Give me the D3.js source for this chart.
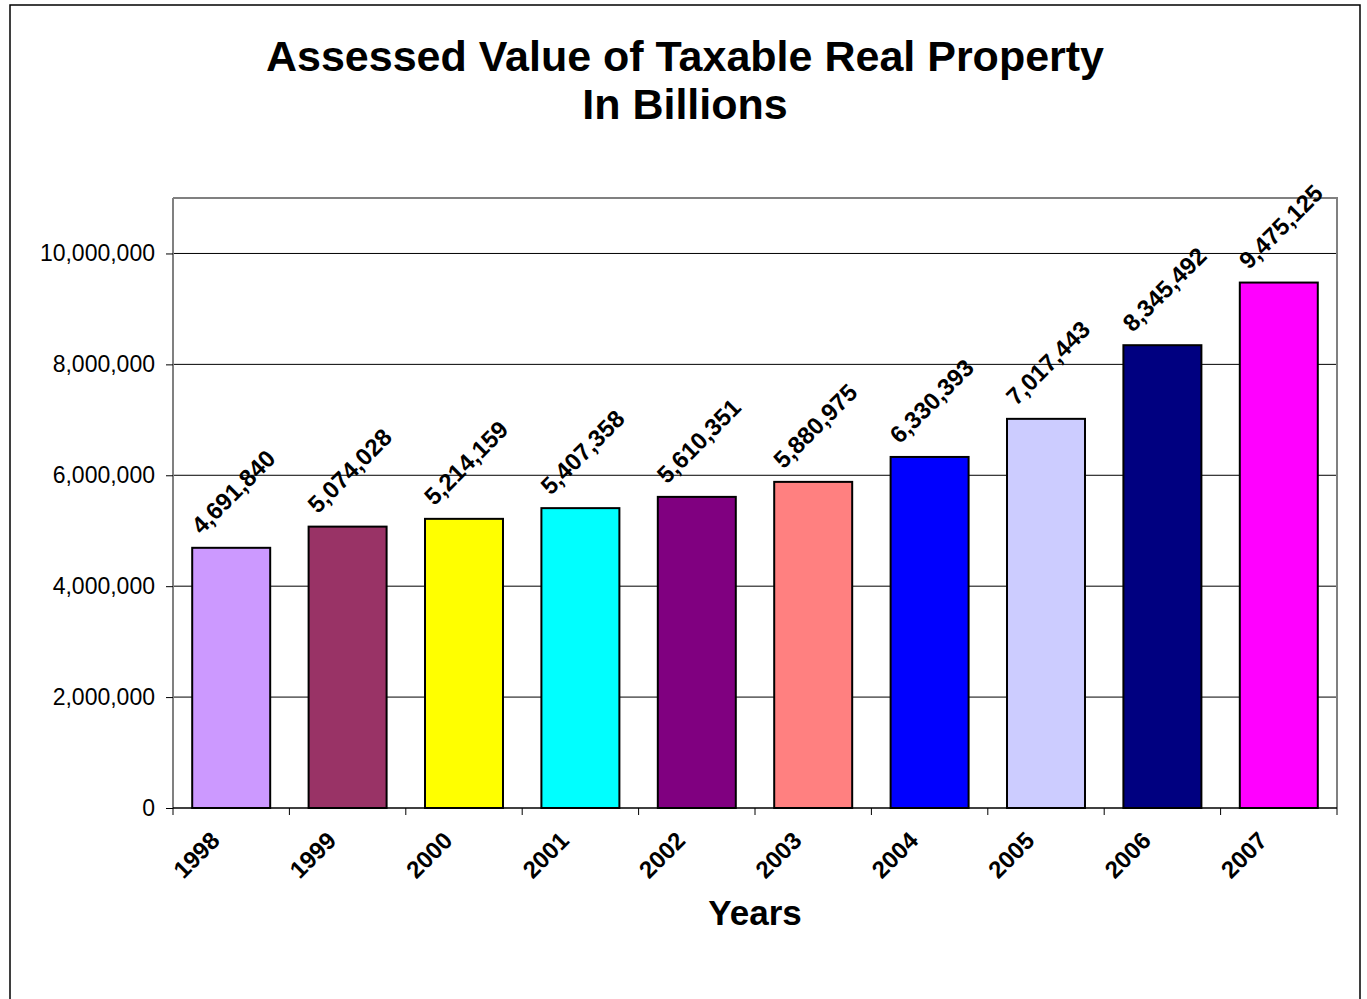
<!DOCTYPE html>
<html>
<head>
<meta charset="utf-8">
<script src="https://cdn.jsdelivr.net/npm/d3@7"></script>
<style>
body { margin: 0; background: #fff; }
svg { font-family: "Liberation Sans", Arial, sans-serif; }
</style>
</head>
<body>
<svg id="chart" width="1367" height="999"></svg>
<script>
// data
var years = ["1998", "1999", "2000", "2001", "2002", "2003", "2004", "2005", "2006", "2007"];
var values = [4691840, 5074028, 5214159, 5407358, 5610351, 5880975, 6330393, 7017443, 8345492, 9475125];
var colors = ["#CC99FF", "#993366", "#FFFF00", "#00FFFF", "#800080", "#FF8080", "#0000FF", "#CCCCFF", "#000080", "#FF00FF"];
var yTicks = [0, 2000000, 4000000, 6000000, 8000000, 10000000];

var svg = d3.select("#chart");
var pLeft = 173, pRight = 1337, pTop = 198, pBottom = 808;

// outer frame
svg.append("path")
    .attr("d", "M10,1010 V5 H1360 V1010")
    .attr("fill", "none")
    .attr("stroke", "#000")
    .attr("stroke-width", 1.5);

svg.append("text")
    .text("Assessed Value of Taxable Real Property")
    .attr("x", 685).attr("y", 71)
    .attr("text-anchor", "middle")
    .attr("font-weight", "bold")
    .attr("font-size", 43);
svg.append("text")
    .text("In Billions")
    .attr("x", 685).attr("y", 119)
    .attr("text-anchor", "middle")
    .attr("font-weight", "bold")
    .attr("font-size", 43);

var x = d3.scaleBand().domain(years).range([pLeft, pRight]).paddingInner(0.33).paddingOuter(0.165);
var xb = d3.scaleBand().domain(years).range([pLeft, pRight]);
var y = d3.scaleLinear().domain([0, 11000000]).range([pBottom, pTop]);

// gridlines
svg.append("g").selectAll("line")
    .data(yTicks.slice(1))
    .enter().append("line")
    .attr("x1", pLeft).attr("x2", pRight)
    .attr("y1", function(d){ return y(d); })
    .attr("y2", function(d){ return y(d); })
    .attr("stroke", "#000")
    .attr("stroke-width", 1);

// plot frame (top and right)
svg.append("path")
    .attr("d", "M" + pLeft + "," + pTop + " H" + pRight + " V" + pBottom)
    .attr("fill", "none")
    .attr("stroke", "#808080")
    .attr("stroke-width", 2);

// y axis
var yAxis = d3.axisLeft(y).tickValues(yTicks).tickSize(7).tickPadding(11)
    .tickFormat(d3.format(","));
var gy = svg.append("g")
    .attr("transform", "translate(" + pLeft + ",0)")
    .call(yAxis);
gy.select(".domain").attr("stroke", "#808080").attr("stroke-width", 2)
    .attr("d", "M0," + pTop + "V" + pBottom);
gy.selectAll(".tick line").attr("stroke", "#000");
gy.selectAll("text").attr("font-size", 23).attr("font-family", "Liberation Sans, Arial, sans-serif").attr("fill", "#000");

// bars
svg.append("g").selectAll("rect")
    .data(values)
    .enter().append("rect")
    .attr("x", function(d, i){ return x(years[i]); })
    .attr("y", function(d){ return y(d); })
    .attr("width", x.bandwidth())
    .attr("height", function(d){ return y(0) - y(d); })
    .attr("fill", function(d, i){ return colors[i]; })
    .attr("stroke", "#000")
    .attr("stroke-width", 2);

// x axis with ticks at category boundaries
var gx = svg.append("g").attr("transform", "translate(0," + pBottom + ")");
gx.append("line").attr("x1", pLeft).attr("x2", pRight).attr("stroke", "#000").attr("stroke-width", 1.5);
gx.selectAll(".xt")
    .data(years.concat(["end"]))
    .enter().append("line")
    .attr("class", "xt")
    .attr("x1", function(d, i){ return i < years.length ? xb(d) : pRight; })
    .attr("x2", function(d, i){ return i < years.length ? xb(d) : pRight; })
    .attr("y1", 0).attr("y2", 7)
    .attr("stroke", "#000");
gx.selectAll(".xl")
    .data(years)
    .enter().append("text")
    .attr("class", "xl")
    .text(function(d){ return d; })
    .attr("text-anchor", "end")
    .attr("font-weight", "bold")
    .attr("font-size", 24)
    .attr("transform", function(d){
        return "translate(" + (xb(d) + xb.bandwidth() / 2 - 10) + ",34) rotate(-45)";
    });

// value labels
svg.append("g").selectAll("text")
    .data(values)
    .enter().append("text")
    .text(function(d){ return d3.format(",")(d); })
    .attr("text-anchor", "middle")
    .attr("dominant-baseline", "central")
    .attr("font-weight", "bold")
    .attr("font-size", 24)
    .attr("transform", function(d, i){
        return "translate(" + (x(years[i]) + x.bandwidth() / 2 + 2) + "," + (y(d) - 56) + ") rotate(-45)";
    });

svg.append("text")
    .text("Years")
    .attr("x", (pLeft + pRight) / 2).attr("y", 925)
    .attr("text-anchor", "middle")
    .attr("font-weight", "bold")
    .attr("font-size", 35);
</script>
</body>
</html>
